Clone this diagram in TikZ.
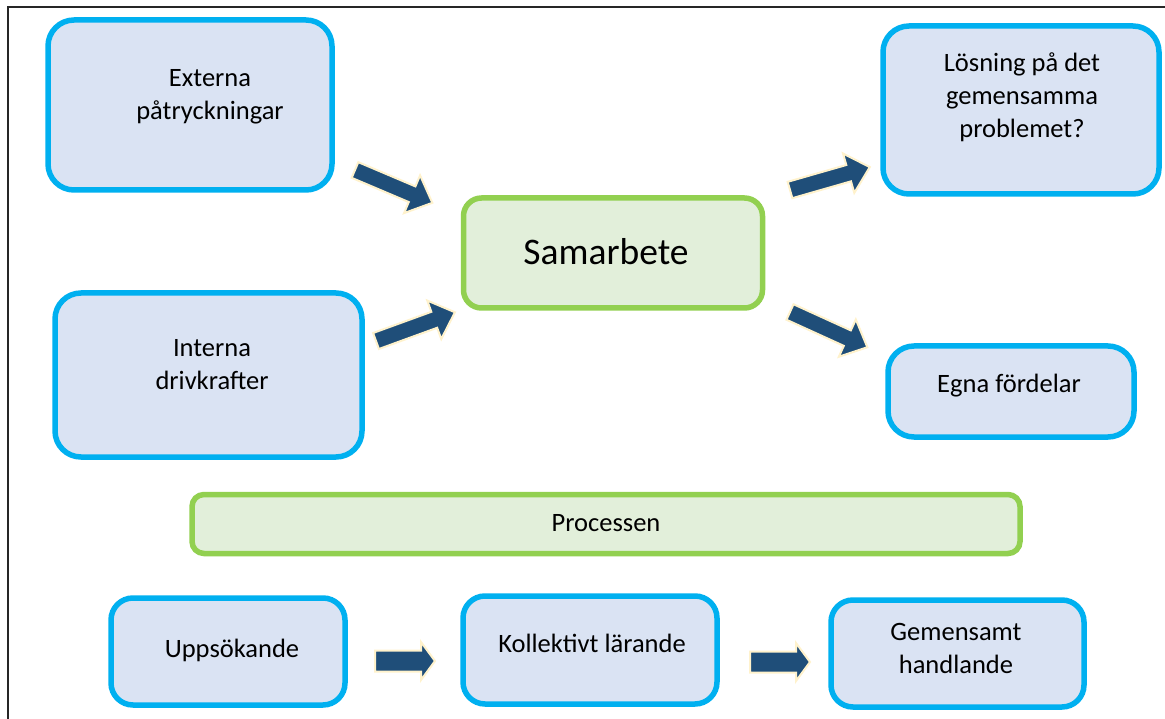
\documentclass[tikz,border=0pt]{standalone}
\usepackage{fontspec}
\setmainfont{Carlito}
\definecolor{boxblue}{HTML}{DAE3F3}
\definecolor{edgeblue}{HTML}{00B0F0}
\definecolor{boxgreen}{HTML}{E2EFDA}
\definecolor{edgegreen}{HTML}{92D050}
\definecolor{navy}{HTML}{1F4E79}
\definecolor{cream}{HTML}{FFF2CC}
\tikzset{
  bluebox/.style={draw=edgeblue, fill=boxblue, line width=5.5pt, rounded corners=26pt, inner sep=0pt},
  greenbox/.style={draw=edgegreen, fill=boxgreen, line width=5.5pt, rounded corners=18pt, inner sep=0pt},
  label/.style={align=center, font=\fontsize{26.5}{33}\selectfont, inner sep=0pt},
  blockarrow/.style={fill=navy, draw=cream, line width=2pt, line join=miter},
}
% block arrow: tail centre, angle, length, head length, shaft width, head width
\newcommand\blockarrow[6]{%
  \begin{scope}[shift={#1}, rotate=#2]
    \draw[blockarrow] (0,-#5/2) -- (#3-#4,-#5/2) -- (#3-#4,-#6/2) -- (#3,0)
      -- (#3-#4,#6/2) -- (#3-#4,#5/2) -- (0,#5/2) -- cycle;
  \end{scope}}
\begin{document}
\begin{tikzpicture}[x=1pt, y=-1pt]
  \useasboundingbox (0,0) rectangle (1165,719);
  % page frame
  \draw[line width=2pt, color=black!85] (8,719) -- (8,7) -- (1165,7);

  % boxes
  \node[bluebox, minimum width=284pt, minimum height=170pt] (ext) at (190,105) {};
  \node[label] (extT) at (210,97) {Externa\\påtryckningar};
  \node[bluebox, minimum width=307pt, minimum height=164pt] (int) at (208.5,375) {};
  \node[label] (intT) at (212,365) {Interna\\drivkrafter};
  \node[greenbox, minimum width=299pt, minimum height=110pt] (sam) at (613,253) {};
  \node[label, font=\fontsize{37.5}{42}\selectfont] (samT) at (606,252) {Samarbete};
  \node[bluebox, minimum width=276pt, minimum height=168pt] (los) at (1021,110) {};
  \node[label] (losT) at (1022,97) {Lösning på det\\gemensamma\\problemet?};
  \node[bluebox, minimum width=246pt, minimum height=91pt] (egna) at (1011,391.5) {};
  \node[label] (egnaT) at (1009,386) {Egna fördelar};
  \node[greenbox, rounded corners=12pt, minimum width=828pt, minimum height=59pt] (proc) at (606,524) {};
  \node[label] (procT) at (606,523) {Processen};
  \node[bluebox, rounded corners=22pt, minimum width=234pt, minimum height=107pt] (upp) at (228,651.5) {};
  \node[label] (uppT) at (232,650) {Uppsökande};
  \node[bluebox, rounded corners=22pt, minimum width=254pt, minimum height=108pt] (kol) at (590,650) {};
  \node[label] (kolT) at (592,643) {Kollektivt lärande};
  \node[bluebox, rounded corners=22pt, minimum width=253pt, minimum height=107pt] (gem) at (957.5,653.5) {};
  \node[label] (gemT) at (956,648) {Gemensamt\\handlande};

  % block arrows
  \blockarrow{(355,170)}{-23}{84}{22}{17}{41}
  \blockarrow{(376,341)}{20}{84}{22}{17}{41}
  \blockarrow{(790,190)}{16}{83}{22}{17}{41}
  \blockarrow{(790,312)}{-24.5}{85}{22}{17}{41}
  \blockarrow{(375,661)}{0}{60}{14}{21}{38}
  \blockarrow{(750,662)}{0}{60}{14}{21}{38}
\end{tikzpicture}
\end{document}
